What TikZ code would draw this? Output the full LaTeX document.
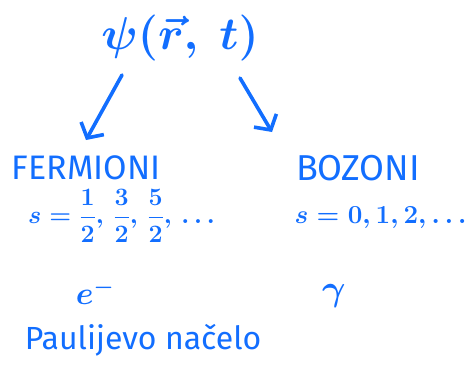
\documentclass[tikz,border=0pt]{standalone}
\usepackage{fix-cm}
\usepackage{amsmath}
\usepackage{fontspec}
\setmainfont{Fira Sans}
\usetikzlibrary{arrows.meta}

\definecolor{ink}{RGB}{18,110,255}

\begin{document}
\begin{tikzpicture}[
    x=1pt, y=-1pt,
    >={Straight Barb[length=11pt,width=26pt]},
    every node/.style={text=ink, inner sep=0pt, font=\boldmath},
    hand/.style={draw=ink, line width=3.6pt, line cap=round, line join=round}
]
    \useasboundingbox (0,0) rectangle (473,372);

    % Wave function on top
    \node (psi) at (180,38) {\fontsize{46}{50}\selectfont $\psi(\vec{r},\ t)$};

    % Left branch
    \node (fer)  at (86,168)  {\fontsize{34}{40}\selectfont FERMIONI};
    \node (fers) at (124,216) {\fontsize{25}{30}\selectfont $s=\dfrac12,\,\dfrac32,\,\dfrac52,\,\dots$};
    \node (ele)  at (95,292)  {\fontsize{32}{40}\selectfont $e^-$};
    \node (pauli) at (143,340) {\fontsize{32}{40}\selectfont Paulijevo načelo};

    % Right branch
    \node (boz)  at (358,168) {\fontsize{36}{40}\selectfont BOZONI};
    \node (bozs) at (383,218) {\fontsize{26}{30}\selectfont $s=0,1,2,\dots$};
    \node (gam)  at (334,296) {\fontsize{36}{40}\selectfont $\gamma$};

    % Arrows
    \coordinate (la) at (122,75);
    \coordinate (lb) at (86,140);
    \coordinate (ra) at (240,78);
    \coordinate (rb) at (272,132);
    \draw[hand,->] (la) -- (lb);
    \draw[hand,->] (ra) -- (rb);

\end{tikzpicture}
\end{document}
